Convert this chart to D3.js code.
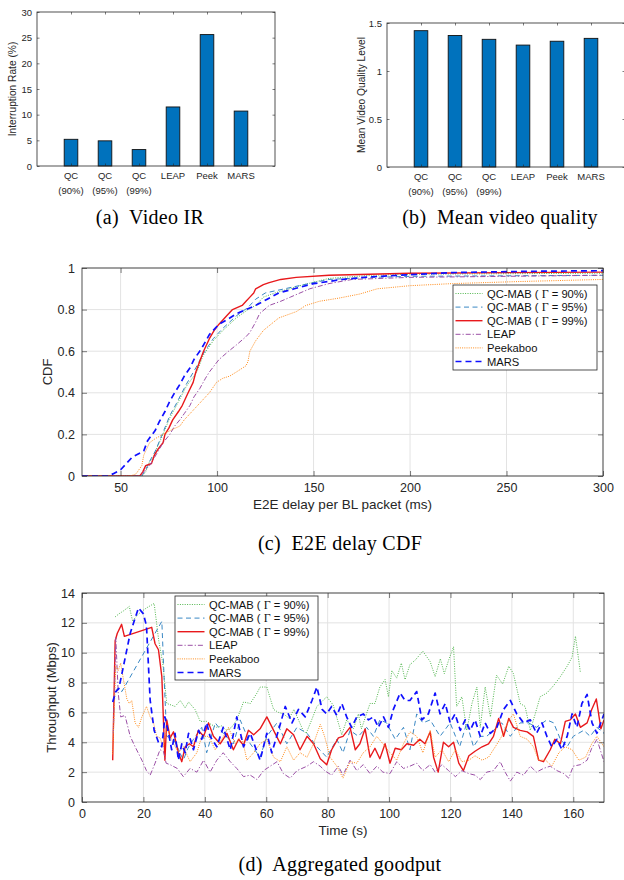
<!DOCTYPE html>
<html>
<head>
<meta charset="utf-8">
<script src="https://cdnjs.cloudflare.com/ajax/libs/d3/7.8.5/d3.min.js"></script>
<style>
  body { margin: 0; background: #fff; }
  svg { display: block; }
</style>
</head>
<body>
<svg id="fig" width="624" height="880"></svg>
<script>
// ---- data: bar charts ----
let bar_cats = ["QC", "QC", "QC", "LEAP", "Peek", "MARS"];
let bar_subs = ["(90%)", "(95%)", "(99%)", "", "", ""];
let ir_values = [5.2, 4.9, 3.2, 11.5, 25.6, 10.7];
let quality_values = [1.42, 1.37, 1.33, 1.27, 1.31, 1.34];
let ir_ticks = [0, 5, 10, 15, 20, 25, 30];
let quality_ticks = [0, 0.5, 1, 1.5];

// ---- data: series names ----
let series_names = ["QC-MAB ( \u0393 = 90%)", "QC-MAB ( \u0393 = 95%)", "QC-MAB ( \u0393 = 99%)",
                    "LEAP", "Peekaboo", "MARS"];

// ---- data: E2E delay CDF, [delay ms, cdf] ----
let cdf_qc90 = [[30,0],[61,0],[63,0.02],[65,0.07],[67,0.09],[68.6,0.13],[72,0.2],[75.5,0.28],[79,0.34],
  [84,0.43],[89.5,0.5],[92.8,0.58],[98,0.65],[103,0.7],[110,0.76],[116,0.8],[120,0.82],[124,0.86],[130,0.88],
  [137.6,0.9],[145,0.92],[158,0.95],[180,0.965],[200,0.97],[300,0.975]];
let cdf_qc95 = [[30,0],[61,0],[63,0.03],[65,0.07],[68,0.12],[72,0.21],[75.5,0.29],[79,0.35],[84,0.44],
  [89,0.52],[93,0.59],[98,0.66],[103,0.71],[110,0.77],[116,0.81],[120,0.85],[125,0.88],[135,0.9],[145,0.92],
  [158,0.945],[180,0.955],[200,0.96],[300,0.965]];
let cdf_qc99 = [[30,0],[60,0],[61.5,0.02],[63,0.05],[66,0.06],[67.5,0.1],[69.5,0.13],[72,0.16],[73,0.2],
  [75,0.23],[77,0.27],[80,0.31],[82,0.34],[85,0.4],[87.6,0.45],[89,0.5],[91,0.55],[93,0.6],[96,0.66],
  [98.5,0.7],[101,0.73],[105,0.77],[108,0.8],[113,0.82],[115,0.84],[117,0.86],[119,0.88],[120,0.9],
  [124,0.92],[127,0.93],[133,0.945],[141,0.955],[158,0.965],[200,0.975],[300,0.98]];
let cdf_leap = [[30,0],[60,0],[62,0.02],[65,0.05],[67,0.08],[69.5,0.12],[72,0.16],[75.5,0.2],[78,0.24],
  [80.7,0.27],[83,0.3],[86,0.34],[88,0.38],[91,0.42],[94,0.47],[96,0.5],[101,0.56],[106,0.6],[110,0.63],
  [115,0.67],[117,0.69],[120,0.74],[122,0.78],[127,0.82],[133,0.84],[138,0.86],[148,0.9],[158,0.925],
  [170,0.945],[200,0.955],[300,0.965]];
let cdf_peek = [[30,0],[55,0],[58,0.01],[61,0.05],[62,0.1],[65,0.16],[68,0.18],[72,0.2],[76,0.22],
  [80.7,0.24],[83,0.27],[86,0.3],[91,0.35],[96,0.4],[99.7,0.45],[103,0.47],[106.5,0.48],[110,0.5],
  [115,0.53],[116,0.55],[117,0.6],[120,0.65],[124,0.7],[128,0.73],[132,0.76],[141,0.79],[146,0.82],
  [153,0.84],[163,0.855],[174,0.875],[183,0.9],[200,0.915],[222,0.925],[257,0.935],[300,0.945]];
let cdf_mars = [[30,0],[43,0],[46,0.01],[50,0.03],[53,0.06],[56,0.09],[62,0.12],[64,0.17],[68,0.22],
  [70,0.26],[73,0.31],[75.5,0.36],[78,0.4],[80.7,0.44],[83,0.48],[86,0.52],[88,0.56],[91,0.6],[93,0.63],
  [96,0.68],[101,0.73],[105,0.75],[110,0.78],[115,0.8],[120,0.82],[126,0.85],[132,0.88],[140,0.9],
  [150,0.925],[165,0.945],[179,0.957],[200,0.968],[222,0.978],[260,0.984],[300,0.987]];
let cdf_ticks_x = [50, 100, 150, 200, 250, 300];
let cdf_ticks_y = [0, 0.2, 0.4, 0.6, 0.8, 1];

// ---- data: aggregated goodput, [time s, Mbps] ----
let tp_qc90 = [[10.8,12.4],[12,12.6],[13.5,12.8],[15.4,13.1],[16.5,12.1],[17.5,12.4],[19,12.7],[21,13.0],
  [23.5,13.3],[25,10.8],[26.3,9.3],[27.6,6.6],[29,6.5],[30.3,6.4],[32,6.8],[33.6,6.3],[34.7,6.7],[36.8,6.2],
  [38.5,5.4],[40.6,5.4],[42,5.2],[43.9,5.0],[45.5,5.1],[47,4.8],[48.7,5.0],[50.4,5.5],[52.6,6.7],[54.8,6.6],
  [57,7.3],[58,7.7],[60.2,7.7],[62.4,6.2],[64,6.0],[65.6,5.9],[67.5,5.6],[69,6.2],[72,4.8],[73,4.6],[74.8,5.5],
  [76.5,6.4],[79.7,7.05],[81.8,6.5],[84.6,4.5],[86.2,5.5],[88.4,4.9],[90,5.9],[91,4.9],[93.8,6.6],[95.4,6.6],
  [97,7.7],[98.7,8.2],[99.8,7.05],[100.9,8.8],[102.5,8.3],[104,9.3],[105.2,8.2],[106.8,9.2],[108.5,9.5],
  [111,10.1],[113.4,9.4],[115,8.4],[116.7,9.6],[118,8.6],[119.4,9.5],[121,10.4],[122,6.4],[123.7,7.05],
  [125.3,4.8],[127,6.6],[128.6,7.7],[129.7,5.0],[131.3,7.7],[133,5.7],[135,8.5],[137,7.9],[139,9.1],
  [140.5,8.6],[142.7,6.6],[144.3,6.4],[146,4.8],[147.6,5.9],[149.2,7.05],[151.4,7.3],[153.6,7.8],[155.8,8.4],
  [158,9.1],[159.6,9.7],[160.7,11.1],[162.3,8.7]];
let tp_qc95 = [[10.2,6.8],[11.5,7.6],[13,7.4],[26,12.1],[26.8,8.0],[27.6,4.4],[29.8,4.2],[31.5,3.5],[33,2.8],
  [34.5,3.6],[36.3,4.2],[39,5.0],[40.6,3.3],[43.4,5.3],[46,4.6],[49.3,3.9],[51.5,5.5],[54.8,3.9],[58,3.0],
  [60.2,4.4],[63.5,5.3],[66.7,3.9],[70,5.0],[73.3,4.6],[76.5,3.7],[79.7,3.0],[83,4.2],[85,3.3],[87.3,4.8],
  [90,4.4],[92.7,5.0],[94.9,4.4],[97,5.5],[99.2,5.3],[102,4.2],[104.7,5.0],[106.8,3.5],[109,5.9],[111,5.3],
  [113.4,5.5],[116.6,4.4],[119.9,5.3],[123,3.7],[125.3,5.3],[127.5,3.7],[129.7,4.4],[131.8,4.4],[134,4.8],
  [136.7,5.3],[139.5,4.4],[142.7,5.3],[145.4,5.3],[148,5.0],[151.4,5.5],[153.6,5.3],[155.8,4.2],[158,3.7],
  [160,4.4],[163.4,4.8],[165.5,4.4],[167.7,5.0],[170,4.6]];
let tp_qc99 = [[10,2.8],[10.8,10.8],[11.5,11.3],[12.9,11.9],[13.8,11.1],[22.7,11.7],[23.8,10.6],[24.9,10.2],
  [26,8.4],[27,2.8],[27.6,5.5],[28.7,4.3],[29.8,4.7],[31.4,3.3],[32.5,2.7],[33.6,3.7],[35,3.9],[36.3,3.7],
  [37.9,4.8],[39.6,4.4],[41.2,5.3],[42.8,4.4],[45,3.9],[47.2,4.6],[49.3,3.5],[51,4.2],[52.6,3.8],[54.2,4.8],
  [55.9,4.5],[58,4.9],[60.2,5.7],[62.4,4.8],[64.6,3.9],[66.7,4.9],[68.9,4.5],[71,3.5],[73.3,4.4],[75.4,3.9],
  [77.6,2.9],[79.7,2.5],[81.3,3.5],[83.5,4.3],[85,4.4],[87.3,5.0],[89,3.5],[90.5,3.9],[92.2,4.9],[93.8,3.0],
  [95.4,3.6],[97,2.9],[98.7,3.9],[100.3,2.6],[102,3.6],[104,3.5],[105.8,3.9],[108,3.8],[110,4.2],[111.7,3.9],
  [113.4,4.7],[114.5,3.0],[116,2.0],[117.7,4.0],[119.4,3.7],[121,4.0],[122.7,2.6],[124.2,2.1],[126,3.1],
  [128,3.4],[130.3,3.7],[132.4,3.9],[134,4.4],[135.7,5.6],[137.3,4.4],[139,5.6],[140.5,5.0],[142.7,4.8],
  [145,4.7],[147,4.4],[148.7,2.8],[150.3,2.7],[152.5,3.5],[154,4.2],[155.8,3.9],[157.4,5.4],[159,5.5],
  [160.7,5.9],[162.3,5.0],[164.5,5.3],[166,6.2],[167.5,6.9],[169,4.9],[170,5.5]];
let tp_leap = [[10.2,4.6],[11,11.0],[11.8,7.3],[12.6,5.7],[14,5.8],[15.7,4.4],[17.3,3.7],[19.5,2.8],[21,2.1],
  [22.2,1.8],[23.8,2.6],[25.4,3.5],[26.5,3.4],[27.4,2.6],[28.7,2.5],[31,2.25],[33,1.7],[35.2,2.25],[37.4,2.0],
  [39.6,2.8],[41.7,2.0],[43.9,2.8],[46,3.3],[48.3,2.7],[50.4,2.25],[52.6,1.7],[54.8,1.8],[57,1.5],[59.1,2.1],
  [61.3,2.4],[63.5,2.7],[65.6,1.9],[67.8,1.6],[70,2.1],[73.3,2.4],[75.4,2.7],[77.6,2.4],[79,2.1],[81.3,1.8],
  [83.5,2.4],[85,1.8],[87.3,2.8],[89.5,2.1],[91.6,2.5],[93.8,1.9],[96,2.4],[98,2.0],[100.3,1.9],[102.5,2.7],
  [104.7,2.25],[106.8,2.4],[109,2.6],[111,2.1],[113.4,2.5],[115,2.0],[117.2,2.5],[119.4,2.1],[121.6,1.7],
  [123.7,2.1],[126,1.9],[128,1.8],[129.7,1.5],[131.8,2.0],[134,2.1],[136.2,2.7],[137.8,2.0],[139.5,1.4],
  [141.6,2.0],[143.8,1.8],[146,2.4],[148,2.0],[150.3,2.25],[152.5,2.4],[154.7,2.1],[156.9,1.9],[158.5,1.6],
  [160,2.4],[162.3,2.5],[164.5,2.8],[166,3.6],[167.7,4.2],[170,2.7]];
let tp_peek = [[10,3.2],[11,9.1],[11.8,8.8],[12.6,9.3],[13.5,8.2],[14.6,6.9],[15.4,6.6],[16.2,6.8],[17.3,5.3],
  [18.4,5.0],[19.5,5.7],[21,6.4],[22.2,5.7],[23.3,5.3],[24.3,4.4],[25.4,4.3],[26.5,3.7],[27.6,5.0],[29.8,3.9],
  [31.4,3.3],[33,3.7],[35.2,2.7],[37.4,3.3],[39,4.4],[41.2,4.4],[43.4,3.5],[45.5,4.2],[47.7,5.0],[49.9,3.9],
  [52,4.4],[53.7,2.8],[55.9,3.3],[58,3.9],[60.2,4.2],[62.4,3.0],[64.6,2.7],[66.7,3.7],[68.9,2.8],[71,3.3],
  [73.3,3.0],[75.4,3.9],[77.6,5.2],[79,4.4],[80.8,3.0],[83,2.4],[85,1.6],[87.3,2.7],[89.5,2.6],[91.6,3.3],
  [93.8,3.7],[96,4.4],[98,3.9],[100.3,3.3],[102.5,2.8],[104.7,3.9],[106.8,4.7],[109,4.4],[111,3.3],[113.4,4.8],
  [115,3.0],[117.2,3.5],[119.4,2.7],[121.6,3.5],[123.7,2.7],[126,2.8],[128,3.1],[130.3,2.8],[132.4,3.0],
  [134.6,3.7],[136.7,4.4],[139,5.5],[140.5,5.9],[142.7,4.4],[145,4.2],[147,3.7],[148.7,2.8],[151,2.8],
  [153,2.4],[155.3,3.3],[157.4,3.7],[159.6,3.5],[161.8,2.8],[164,3.0],[166,3.9],[167.7,4.4],[170,3.7]];
let tp_mars = [[10,6.7],[11,7.4],[12,7.6],[13,8.6],[15.7,11.3],[18.4,13.0],[20,12.6],[21,11.8],[22.2,6.8],
  [23.5,4.8],[24.9,4.0],[26,3.7],[27,5.7],[28.2,4.6],[29.2,3.5],[30.3,4.6],[31.4,2.8],[32.5,3.9],[33.6,3.3],
  [34.7,4.6],[36.3,3.5],[38,4.8],[39,4.2],[40.6,5.3],[41.7,4.4],[43.9,3.7],[46,5.0],[48.3,3.5],[50.4,5.7],
  [52.6,3.7],[54.8,4.6],[58,2.8],[60.2,4.6],[61.8,3.3],[64,4.8],[66.2,6.4],[68.4,5.3],[70.5,6.2],[72.7,5.7],
  [74.9,6.8],[76.5,7.7],[78.2,6.2],[79.7,5.9],[81.3,6.4],[83,5.8],[84.6,6.6],[86.2,5.7],[87.8,5.0],[89.5,5.7],
  [91.6,5.9],[93.3,5.5],[94.9,5.7],[96.5,5.0],[98.2,5.7],[99.8,5.0],[101.4,6.2],[103.6,7.3],[105.2,6.8],
  [106.8,6.8],[109,7.4],[110.7,5.5],[112.8,5.9],[115,7.3],[116.6,5.9],[118.3,6.6],[119.9,5.3],[121.5,5.9],
  [123.2,4.8],[124.8,5.5],[126.4,4.8],[128,5.5],[129.7,4.4],[131.3,5.3],[133,4.6],[135.1,5.0],[137.3,6.2],
  [139.5,6.8],[141.6,5.9],[143.8,5.3],[146,5.5],[148,4.6],[149.8,5.3],[151.4,4.4],[153,3.7],[154.7,4.2],
  [156.3,3.5],[158,4.4],[159.6,5.9],[161.2,5.0],[162.8,6.6],[164.5,7.2],[166.1,5.3],[167.7,4.6],[170,5.9]];
let tp_ticks_x = [0, 20, 40, 60, 80, 100, 120, 140, 160];
let tp_ticks_y = [0, 2, 4, 6, 8, 10, 12, 14];

// line styles, one per series
let styles = [
  { color: "#3dae3a", dash: "1,1.4", width: 0.9 },
  { color: "#3a88c4", dash: "5,3.5", width: 1.0 },
  { color: "#e8191c", dash: null,    width: 1.4 },
  { color: "#9b4fa6", dash: "5,2,1.2,2", width: 1.0 },
  { color: "#ff8c1a", dash: "1,1.2", width: 1.0 },
  { color: "#1010ff", dash: "6,4",   width: 1.7 }
];

let axis_color = "#262626";
let sans = "'Liberation Sans', Arial, sans-serif";
let serif = "'Liberation Serif', 'DejaVu Serif', serif";
let num_fmt = d3.format("~g");

let svg = d3.select("#fig");

let caption = function hst_caption(x, y, txt)
{
  svg.append("text")
    .attr("x", x).attr("y", y)
    .attr("text-anchor", "middle")
    .attr("xml:space", "preserve")
    .style("font-family", serif)
    .style("font-size", "20px")
    .style("letter-spacing", "0.3px")
    .style("white-space", "pre")
    .text(txt);
  return (null);
}

// box with inward ticks on all four sides
let draw_box = function hst_draw_box(g, xs, ys, x_ticks, y_ticks, tick_len)
{
  let w = xs.range()[1] - xs.range()[0];
  let h = ys.range()[0] - ys.range()[1];
  let sides = [
    [d3.axisBottom(xs).tickValues(x_ticks).tickFormat(num_fmt), "translate(0," + h + ")"],
    [d3.axisTop(xs).tickValues(x_ticks).tickFormat(""), "translate(0,0)"],
    [d3.axisLeft(ys).tickValues(y_ticks).tickFormat(num_fmt), "translate(0,0)"],
    [d3.axisRight(ys).tickValues(y_ticks).tickFormat(""), "translate(" + w + ",0)"]
  ];
  let axes = [];
  sides.forEach(function (s) {
    let a = g.append("g")
      .attr("transform", s[1])
      .call(s[0].tickSizeInner(-tick_len).tickSizeOuter(0));
    a.select(".domain").remove();
    a.selectAll("line").attr("stroke", axis_color).attr("stroke-width", 0.6);
    axes.push(a);
  });
  g.append("rect")
    .attr("x", 0).attr("y", 0).attr("width", w).attr("height", h)
    .attr("fill", "none").attr("stroke", axis_color).attr("stroke-width", 0.8);
  return (axes);
}

let draw_bar_chart = function hst_draw_bar_chart(left, right, top, bottom, values, y_max, y_ticks, y_label, label_x)
{
  let xs = d3.scaleLinear().domain([0, 7]).range([0, right - left]);
  let ys = d3.scaleLinear().domain([0, y_max]).range([bottom - top, 0]);
  let g = svg.append("g").attr("transform", "translate(" + left + "," + top + ")");

  g.selectAll("rect.bar")
    .data(values)
    .join("rect")
      .attr("class", "bar")
      .attr("x", (d, i) => xs(i + 1 - 0.2))
      .attr("width", xs(0.4) - xs(0))
      .attr("y", d => ys(d))
      .attr("height", d => ys(0) - ys(d))
      .attr("fill", "#0072bd")
      .attr("stroke", "#111")
      .attr("stroke-width", 0.9);

  let axes = draw_box(g, xs, ys, [1, 2, 3, 4, 5, 6], y_ticks, 2.5);
  axes[0].selectAll("text").remove();
  axes[2].selectAll("text")
    .attr("x", -5)
    .attr("fill", axis_color)
    .style("font-family", sans).style("font-size", "9.5px");

  g.selectAll("text.cat")
    .data(bar_cats)
    .join("text")
      .attr("class", "cat")
      .attr("x", (d, i) => xs(i + 1))
      .attr("y", ys(0) + 13)
      .attr("text-anchor", "middle")
      .attr("fill", axis_color)
      .style("font-family", sans).style("font-size", "9.5px")
      .text(d => d);
  g.selectAll("text.sub")
    .data(bar_subs)
    .join("text")
      .attr("class", "sub")
      .attr("x", (d, i) => xs(i + 1))
      .attr("y", ys(0) + 28)
      .attr("text-anchor", "middle")
      .attr("fill", axis_color)
      .style("font-family", sans).style("font-size", "9.5px")
      .text(d => d);

  svg.append("text")
    .attr("transform", "translate(" + label_x + "," + ((top + bottom) / 2) + ") rotate(-90)")
    .attr("text-anchor", "middle")
    .attr("fill", axis_color)
    .style("font-family", sans).style("font-size", "10.2px")
    .text(y_label);
  return (null);
}

let draw_lines_chart = function hst_draw_lines_chart(opts)
{
  let xs = d3.scaleLinear().domain(opts.x_domain).range([0, opts.right - opts.left]);
  let ys = d3.scaleLinear().domain(opts.y_domain).range([opts.bottom - opts.top, 0]);
  let w = opts.right - opts.left;
  let h = opts.bottom - opts.top;
  let g = svg.append("g").attr("transform", "translate(" + opts.left + "," + opts.top + ")");

  // grid
  g.append("g")
    .selectAll("line.gx")
    .data(opts.x_ticks)
    .join("line")
      .attr("x1", d => xs(d)).attr("x2", d => xs(d))
      .attr("y1", 0).attr("y2", h)
      .attr("stroke", "#e3e3e3").attr("stroke-width", 1);
  g.append("g")
    .selectAll("line.gy")
    .data(opts.y_ticks)
    .join("line")
      .attr("x1", 0).attr("x2", w)
      .attr("y1", d => ys(d)).attr("y2", d => ys(d))
      .attr("stroke", "#e3e3e3").attr("stroke-width", 1);

  let clip_id = opts.id + "_clip";
  g.append("clipPath").attr("id", clip_id)
    .append("rect").attr("width", w).attr("height", h);

  let line = d3.line().x(d => xs(d[0])).y(d => ys(d[1]));
  g.append("g")
    .attr("clip-path", "url(#" + clip_id + ")")
    .selectAll("path")
    .data(opts.series)
    .join("path")
      .attr("d", d => line(d))
      .attr("fill", "none")
      .attr("stroke", (d, i) => styles[i].color)
      .attr("stroke-width", (d, i) => styles[i].width)
      .attr("stroke-dasharray", (d, i) => styles[i].dash)
      .attr("stroke-linejoin", "round");

  let axes = draw_box(g, xs, ys, opts.x_ticks, opts.y_ticks, 5);
  [axes[0], axes[2]].forEach(function (a) {
    a.selectAll("text")
      .attr("fill", axis_color)
      .style("font-family", sans).style("font-size", "12.5px");
  });
  axes[2].selectAll("text").attr("x", -7);
  axes[0].selectAll("text").attr("y", 7);

  // axis labels
  svg.append("text")
    .attr("x", opts.left + w / 2).attr("y", opts.bottom + 33)
    .attr("text-anchor", "middle").attr("fill", axis_color)
    .style("font-family", sans).style("font-size", "13.5px")
    .text(opts.x_label);
  svg.append("text")
    .attr("transform", "translate(" + opts.y_label_x + "," + (opts.top + h / 2) + ") rotate(-90)")
    .attr("text-anchor", "middle").attr("fill", axis_color)
    .style("font-family", sans).style("font-size", "13px")
    .text(opts.y_label);

  // legend
  let lg = svg.append("g").attr("transform", "translate(" + opts.legend[0] + "," + opts.legend[1] + ")");
  lg.append("rect")
    .attr("width", opts.legend[2]).attr("height", opts.legend[3])
    .attr("fill", "#fff").attr("stroke", axis_color).attr("stroke-width", 0.8);
  let rows = lg.selectAll("g.row")
    .data(series_names)
    .join("g")
      .attr("class", "row")
      .attr("transform", (d, i) => "translate(0," + (8.5 + i * 13.6) + ")");
  rows.append("line")
    .attr("x1", 2.5).attr("x2", 29.5)
    .attr("stroke", (d, i) => styles[i].color)
    .attr("stroke-width", (d, i) => styles[i].width)
    .attr("stroke-dasharray", (d, i) => styles[i].dash);
  let labels = rows.append("text")
    .attr("x", 34).attr("dy", "0.36em")
    .attr("fill", "#111")
    .attr("xml:space", "preserve")
    .style("font-family", sans).style("font-size", "11.2px");
  // Gamma set in a serif face, as in the original legend
  labels.each(function (d) {
    let parts = d.split("\u0393");
    let t = d3.select(this);
    t.append("tspan").text(parts[0]);
    if (parts.length > 1) {
      t.append("tspan").style("font-family", serif).style("font-size", "12px").text("\u0393");
      t.append("tspan").text(parts[1]);
    }
  });
  return (null);
}

// (a) and (b)
draw_bar_chart(37, 275, 12, 166, ir_values, 30, ir_ticks, "Interruption Rate (%)", 16);
draw_bar_chart(387, 625, 23, 167, quality_values, 1.5, quality_ticks, "Mean Video Quality Level", 365);
caption(150, 224, "(a)  Video IR");
caption(500, 224, "(b)  Mean video quality");

// (c)
draw_lines_chart({
  id: "cdf", left: 82, right: 603, top: 268, bottom: 476,
  x_domain: [30, 300], y_domain: [0, 1],
  x_ticks: cdf_ticks_x, y_ticks: cdf_ticks_y,
  series: [cdf_qc90, cdf_qc95, cdf_qc99, cdf_leap, cdf_peek, cdf_mars],
  x_label: "E2E delay per BL packet (ms)", y_label: "CDF", y_label_x: 52,
  legend: [453, 285, 144, 85]
});
caption(340, 550, "(c)  E2E delay CDF");

// (d)
draw_lines_chart({
  id: "tp", left: 82, right: 604, top: 593, bottom: 802,
  x_domain: [0, 170], y_domain: [0, 14],
  x_ticks: tp_ticks_x, y_ticks: tp_ticks_y,
  series: [tp_qc90, tp_qc95, tp_qc99, tp_leap, tp_peek, tp_mars],
  x_label: "Time (s)", y_label: "Throughput (Mbps)", y_label_x: 56,
  legend: [175, 596, 143, 84]
});
caption(340, 871, "(d)  Aggregated goodput");
</script>
</body>
</html>
